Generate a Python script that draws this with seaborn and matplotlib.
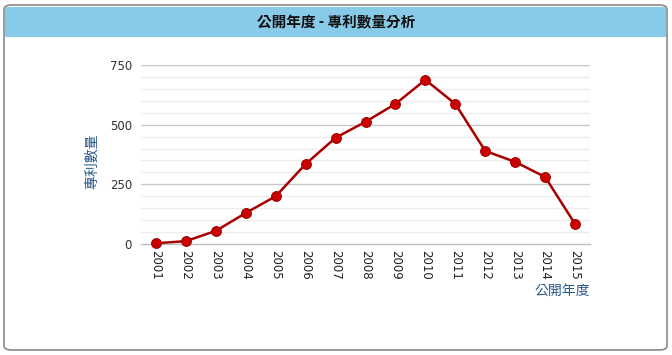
import matplotlib
matplotlib.use("Agg")
import matplotlib.pyplot as plt
from matplotlib.patches import FancyBboxPatch, Rectangle
import seaborn as sns
import pandas as pd
import numpy as np

years = ["2001", "2002", "2003", "2004", "2005", "2006", "2007", "2008",
         "2009", "2010", "2011", "2012", "2013", "2014", "2015"]
counts = [3, 12, 55, 130, 200, 335, 445, 512, 587, 688, 587, 390, 344, 281, 84]
yticks = [0, 250, 500, 750]
title = "公開年度 - 專利數量分析"
xlabel = "公開年度"
ylabel = "專利數量"

sns.set_theme(style="white")
plt.rcParams['font.family'] = ['Noto Sans CJK TC', 'DejaVu Sans']

W, H = 672, 355
fig = plt.figure(figsize=(W / 100, H / 100), dpi=100)
fig.patch.set_facecolor("white")

# outer panel with rounded border
panel = FancyBboxPatch((4 / W, 5 / H), 663 / W, 345 / H,
                       boxstyle="round,pad=0,rounding_size=0.012",
                       transform=fig.transFigure, facecolor="white",
                       edgecolor="#8a8a8a", linewidth=1.2, zorder=-2)
fig.patches.append(panel)
header = Rectangle((5 / W, 1 - 37 / H), 661 / W, 30 / H,
                   transform=fig.transFigure, facecolor="#87cbe9",
                   edgecolor="none", zorder=-1)
fig.patches.append(header)
fig.text(0.5, 1 - 22 / H, title, ha="center", va="center",
         fontsize=10.5, fontweight="bold", color="#111111")

ax = fig.add_axes([141 / W, 1 - 244 / H, 449 / W, 179 / H])
ax.set_zorder(5)
ax.patch.set_alpha(0)
df = pd.DataFrame({"year": np.arange(len(years)), "count": counts})

for v in range(50, 751, 50):
    major = v % 250 == 0
    ax.axhline(v, color="#c8c8c8" if major else "#ececec",
               lw=1.0 if major else 0.9, zorder=0)

sns.lineplot(data=df, x="year", y="count", ax=ax, color="#a80000",
             lw=1.8, marker="o", markersize=7, markerfacecolor="#cc0000",
             markeredgecolor="#a00000", markeredgewidth=0.8, zorder=3,
             clip_on=False)

ax.set_xlim(-0.5, len(years) - 0.5)
ax.set_ylim(0, 750)
ax.set_yticks(yticks)
ax.set_yticklabels([str(v) for v in yticks], fontsize=8.5, color="#333333",
                   family="DejaVu Sans")
ax.set_xticks(np.arange(len(years)))
ax.set_xticklabels(years, rotation=-90, fontsize=8.5, color="#222222",
                   family="DejaVu Sans", va="top", ha="center")
ax.set_xticks(np.arange(-0.5, len(years), 1.0), minor=True)
ax.tick_params(axis="x", which="major", length=0, pad=4)
ax.tick_params(axis="x", which="minor", length=4, color="#c0c0c0", width=0.8)
ax.tick_params(axis="y", length=0, pad=6.5)

for s in ["top", "right", "left"]:
    ax.spines[s].set_visible(False)
ax.spines["bottom"].set_color("#c0c0c0")
ax.spines["bottom"].set_linewidth(1.0)
ax.set_xlabel("")
ax.set_ylabel("")

fig.text(92 / W, 1 - 161 / H, ylabel, rotation=90, ha="center", va="center",
         fontsize=10, color="#2a5a8a")
fig.text(590 / W, 1 - 291 / H, xlabel, ha="right", va="center",
         fontsize=10, color="#2a5a8a")

fig.savefig("out.png", dpi=100, facecolor="white")
